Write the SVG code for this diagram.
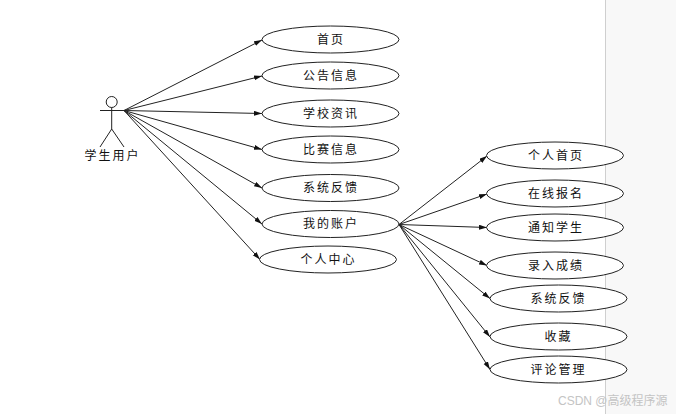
<svg xmlns="http://www.w3.org/2000/svg" width="676" height="414" viewBox="0 0 676 414">
<style>
text{font-family:"Noto Sans CJK SC","Liberation Sans",sans-serif;font-size:12px;fill:#111;text-anchor:middle;letter-spacing:2px}
ellipse{fill:#fff;stroke:#222;stroke-width:1}
.c line{stroke:#222;stroke-width:1;marker-end:url(#a)}
.w{fill:#c4c4c4;font-family:"Liberation Sans","Noto Sans CJK SC",sans-serif;letter-spacing:0;text-anchor:start}
</style>
<defs><marker id="a" markerUnits="userSpaceOnUse" markerWidth="10" markerHeight="6" refX="8" refY="2.500" orient="auto"><path d="M0 0L8 2.500L0 5z" fill="#111"/></marker></defs>
<rect width="676" height="414" fill="#fff"/>
<rect x="605" width="71" height="414" fill="#f8f8f8"/>
<line x1="605.500" y1="0" x2="605.500" y2="414" stroke="#cfcfcf"/>
<g class="c" id="connectors">
<line x1="124" y1="110.500" x2="262" y2="40"/>
<line x1="124" y1="110.500" x2="262" y2="76"/>
<line x1="124" y1="110.500" x2="262" y2="113.500"/>
<line x1="124" y1="110.500" x2="262" y2="149.500"/>
<line x1="124" y1="110.500" x2="262" y2="188"/>
<line x1="124" y1="110.500" x2="262" y2="224"/>
<line x1="124" y1="110.500" x2="260" y2="259.500"/>
<line x1="399" y1="224.500" x2="487" y2="156"/>
<line x1="399" y1="224.500" x2="487" y2="194"/>
<line x1="399" y1="224.500" x2="487" y2="227.500"/>
<line x1="399" y1="224.500" x2="487" y2="265.500"/>
<line x1="399" y1="224.500" x2="490" y2="298.500"/>
<line x1="399" y1="224.500" x2="490" y2="337"/>
<line x1="399" y1="224.500" x2="490" y2="369.500"/>
</g>
<g id="actor" fill="none" stroke="#222">
<circle cx="111.700" cy="102" r="5.500" fill="#fff"/>
<path d="M100 110.500H124M111.700 107.500V129L100 147M111.700 129L124 147"/>
<text x="112.500" y="160" stroke="none">学生用户</text>
</g>
<g id="n1"><ellipse cx="330.500" cy="39.500" rx="68.500" ry="13.500"/><text x="331" y="43.500">首页</text></g>
<g id="n2"><ellipse cx="330.500" cy="75.500" rx="68.500" ry="13.500"/><text x="331" y="79.500">公告信息</text></g>
<g id="n3"><ellipse cx="330.500" cy="113.500" rx="68.500" ry="13.500"/><text x="331" y="117.500">学校资讯</text></g>
<g id="n4"><ellipse cx="330.500" cy="149.500" rx="68.500" ry="13.500"/><text x="331" y="153.500">比赛信息</text></g>
<g id="n5"><ellipse cx="330.500" cy="188" rx="68.500" ry="13.500"/><text x="331" y="192">系统反馈</text></g>
<g id="n6"><ellipse cx="330.500" cy="224" rx="68.500" ry="13.500"/><text x="331" y="228">我的账户</text></g>
<g id="n7"><ellipse cx="328" cy="259.500" rx="68.500" ry="13.500"/><text x="328.500" y="263.500">个人中心</text></g>
<g id="r1"><ellipse cx="555" cy="155.500" rx="68.500" ry="13.500"/><text x="556" y="159.500">个人首页</text></g>
<g id="r2"><ellipse cx="555" cy="193.500" rx="68.500" ry="13.500"/><text x="556" y="197.500">在线报名</text></g>
<g id="r3"><ellipse cx="555" cy="227.500" rx="68.500" ry="13.500"/><text x="556" y="231.500">通知学生</text></g>
<g id="r4"><ellipse cx="555" cy="265.500" rx="68.500" ry="13.500"/><text x="556" y="269.500">录入成绩</text></g>
<g id="r5"><ellipse cx="558.500" cy="298.500" rx="68.500" ry="13.500"/><text x="558.500" y="302.500">系统反馈</text></g>
<g id="r6"><ellipse cx="558.500" cy="336.500" rx="68.500" ry="13.500"/><text x="558.500" y="340.500">收藏</text></g>
<g id="r7"><ellipse cx="558.500" cy="369.500" rx="68.500" ry="13.500"/><text x="558.500" y="373.500">评论管理</text></g>
<text class="w" x="558" y="405">CSDN @高级程序源</text>
</svg>
